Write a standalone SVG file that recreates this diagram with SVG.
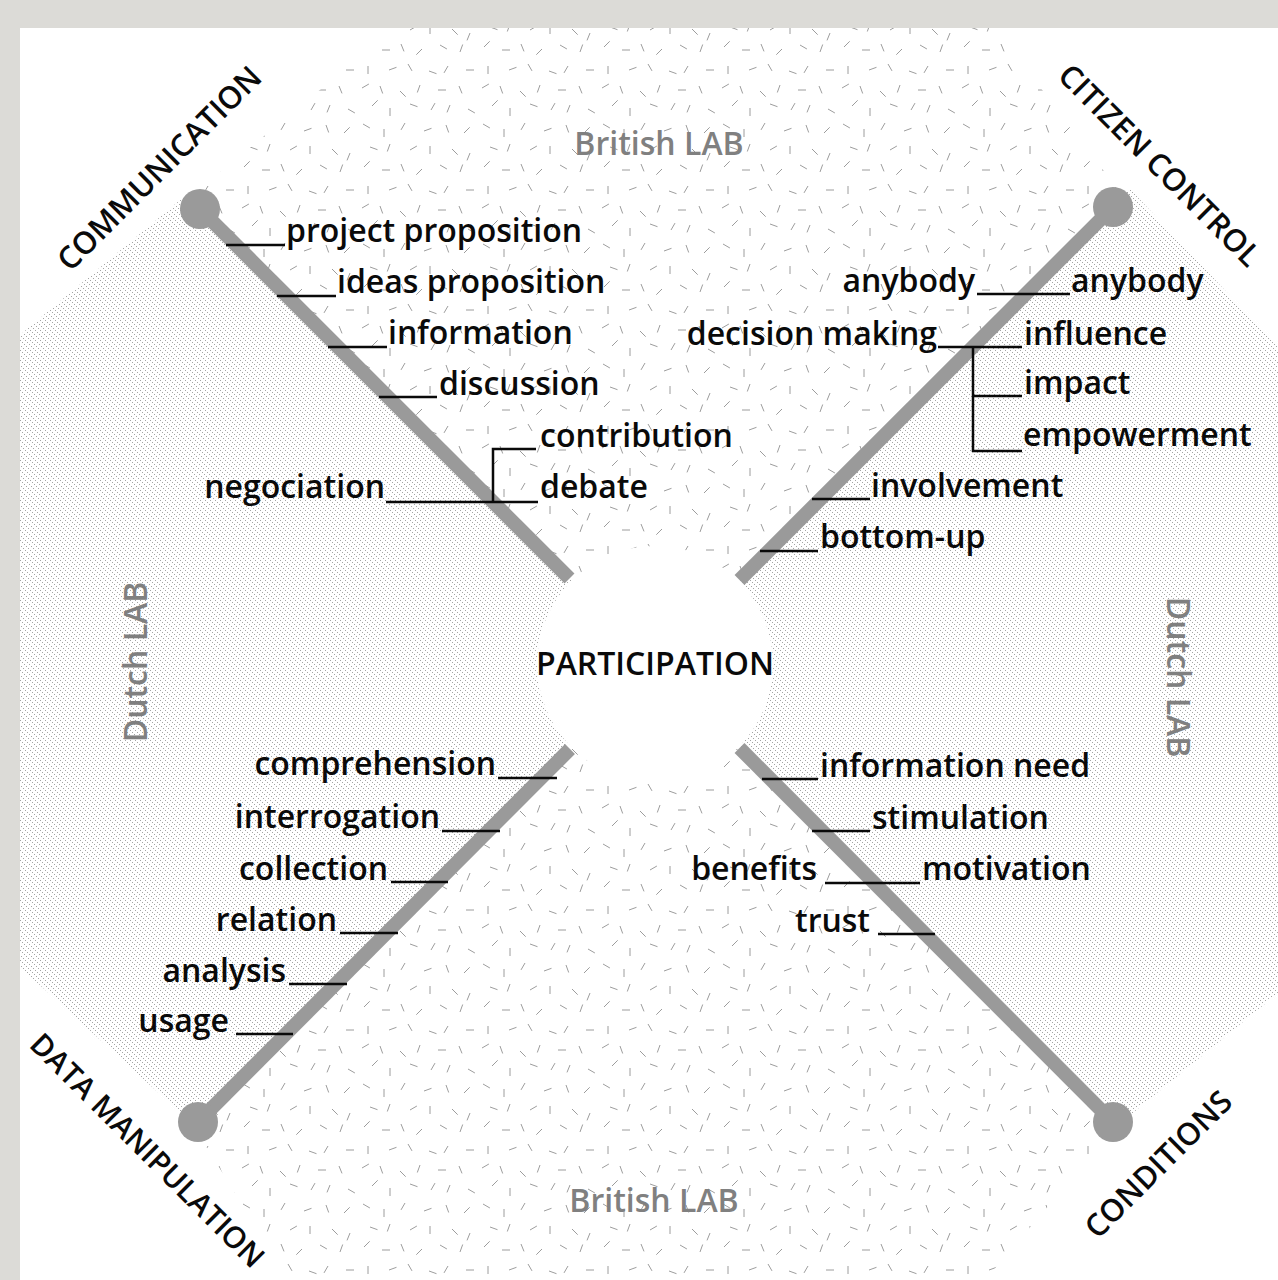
<svg xmlns="http://www.w3.org/2000/svg" width="1278" height="1280" viewBox="0 0 1278 1280">
<style>
.t{font-family:"Open Sans","Liberation Sans",sans-serif;font-weight:600;font-size:32px;fill:#0a0a0a}
.cap{font-size:31px}
.dm{font-size:30px}
.gr{fill:#808080}
.ln{stroke:#0a0a0a;stroke-width:2.5;fill:none}
.arm{stroke:#9a9a9a;stroke-width:14;stroke-linecap:butt;fill:none}
.dot{fill:#9a9a9a}
.sp{stroke:#9c9c9c;stroke-width:1;fill:none}
.hd{fill:#a4a4a4}
</style>
<defs>
<pattern id="hatch" patternUnits="userSpaceOnUse" width="5" height="10">
<g shape-rendering="crispEdges">
<rect class="hd" x="0" y="0" width="1" height="1"/>
<rect class="hd" x="2" y="2" width="1" height="1"/>
<rect class="hd" x="4" y="4" width="1" height="1"/>
<rect class="hd" x="1" y="6" width="1" height="1"/>
<rect class="hd" x="3" y="8" width="1" height="1"/>
</g>
</pattern>
<pattern id="speck" patternUnits="userSpaceOnUse" width="120" height="120">
<path class="sp" d="M3 4l6.9 4M24 9l0 8M45 3l-4 6.9M64 11l7.5-2.7M86 5l2.7 7.5M104 13l5.7-5.7M10 27l7.5 2.7M30 24l-2.7 7.5M50 30l6.9-4M70 26l0 8M92 29l5.7 5.7M110 33l-3 7.4M4 47l5.7-5.7M22 50l8 0M41 44l3 7.4M62 49l-5.7 5.7M80 45l6.9 4M100 52l2.7-7.5M8 66l0 8M29 70l7.5-2.7M48 64l4 6.9M69 71l7.5 2.7M88 66l-4 6.9M106 70l8 0M2 88l6.9-4M20 86l2.7 7.5M40 91l5.7 5.7M60 85l-2.7 7.5M78 90l8 0M99 86l3 7.4M12 106l5.7-5.7M30 108l0 8M50 104l7.5 2.7M71 110l4-6.9M90 105l-3 7.4M108 109l6.9 4"/>
</pattern>
<clipPath id="page"><rect x="20" y="28" width="1258" height="1252"/></clipPath>
</defs>
<rect x="0" y="0" width="1278" height="1280" fill="#dcdbd7"/>
<rect x="20" y="28" width="1258" height="1252" fill="#ffffff"/>
<g id="background" clip-path="url(#page)">
<polygon fill="url(#hatch)" points="655,664 186,195 20,335 20,967 194,1125"/>
<polygon fill="url(#hatch)" points="655,664 1130,189 1278,347 1278,993 1117,1126"/>
<polygon fill="url(#speck)" points="655,664 189,198 395,28 995,28 1123,196"/>
<polygon fill="url(#speck)" points="655,664 193,1126 290,1280 985,1280 1117,1126"/>
<circle cx="655" cy="664" r="118" fill="#ffffff"/>
</g>
<g id="connectors">
<line class="arm" x1="200" y1="209" x2="569.5" y2="578.5"/>
<line class="arm" x1="1113" y1="207" x2="739.5" y2="580"/>
<line class="arm" x1="198" y1="1122" x2="570" y2="749"/>
<line class="arm" x1="1113" y1="1122" x2="739.5" y2="748"/>
<circle class="dot" cx="200" cy="209" r="20"/>
<circle class="dot" cx="1113" cy="207" r="20"/>
<circle class="dot" cx="198" cy="1122" r="20"/>
<circle class="dot" cx="1113" cy="1122" r="20"/>
<path class="ln" d="M226 245H285M277 296H336M328 347H387M379 397H437M536 449H493V502M386 502H538"/>
<path class="ln" d="M977 294H1070M938 347H1022M973 347V452M973 396H1022M973 451H1022M812 499H870M760 551H818"/>
<path class="ln" d="M498 778H557M442 831H500M391 882H448M340 933H398M289 984H347M236 1034H293"/>
<path class="ln" d="M762 779H818M812 831H870M825 883H920M878 934H935"/>
</g>
<g id="participation"><text class="t" x="655" y="675" text-anchor="middle">PARTICIPATION</text></g>
<g id="communication"><text class="t cap" x="167" y="176" text-anchor="middle" transform="rotate(-45 167 176)">COMMUNICATION</text></g>
<g id="citizen-control"><text class="t cap" x="1152" y="173" text-anchor="middle" transform="rotate(45 1152 173)">CITIZEN CONTROL</text></g>
<g id="data-manipulation"><text class="t dm" x="140" y="1158" text-anchor="middle" transform="rotate(45 140 1158)">DATA MANIPULATION</text></g>
<g id="conditions"><text class="t cap" x="1166" y="1172" text-anchor="middle" transform="rotate(-45 1166 1172)">CONDITIONS</text></g>
<g id="british-lab-top"><text class="t gr" x="659" y="155" text-anchor="middle">British LAB</text></g>
<g id="british-lab-bottom"><text class="t gr" x="654" y="1212" text-anchor="middle">British LAB</text></g>
<g id="dutch-lab-left"><text class="t gr" x="147" y="662" text-anchor="middle" transform="rotate(-90 147 662)">Dutch LAB</text></g>
<g id="dutch-lab-right"><text class="t gr" x="1167" y="677" text-anchor="middle" transform="rotate(90 1167 677)">Dutch LAB</text></g>
<g id="communication-labels">
<g id="project-proposition"><text class="t" x="286" y="242">project proposition</text></g>
<g id="ideas-proposition"><text class="t" x="337" y="293">ideas proposition</text></g>
<g id="information"><text class="t" x="388" y="344">information</text></g>
<g id="discussion"><text class="t" x="439" y="395">discussion</text></g>
<g id="contribution"><text class="t" x="540" y="447">contribution</text></g>
<g id="debate"><text class="t" x="540" y="498">debate</text></g>
<g id="negociation"><text class="t" x="385" y="498" text-anchor="end">negociation</text></g>
</g>
<g id="citizen-labels">
<g id="anybody-left"><text class="t" x="975" y="292" text-anchor="end">anybody</text></g>
<g id="anybody-right"><text class="t" x="1071" y="292">anybody</text></g>
<g id="decision-making"><text class="t" x="937" y="345" text-anchor="end">decision making</text></g>
<g id="influence"><text class="t" x="1024" y="345">influence</text></g>
<g id="impact"><text class="t" x="1024" y="394">impact</text></g>
<g id="empowerment"><text class="t" x="1023" y="446">empowerment</text></g>
<g id="involvement"><text class="t" x="871" y="497">involvement</text></g>
<g id="bottom-up"><text class="t" x="820" y="548">bottom-up</text></g>
</g>
<g id="data-labels">
<g id="comprehension"><text class="t" x="496" y="775" text-anchor="end">comprehension</text></g>
<g id="interrogation"><text class="t" x="440" y="828" text-anchor="end">interrogation</text></g>
<g id="collection"><text class="t" x="388" y="880" text-anchor="end">collection</text></g>
<g id="relation"><text class="t" x="337" y="931" text-anchor="end">relation</text></g>
<g id="analysis"><text class="t" x="286" y="982" text-anchor="end">analysis</text></g>
<g id="usage"><text class="t" x="229" y="1032" text-anchor="end">usage</text></g>
</g>
<g id="conditions-labels">
<g id="information-need"><text class="t" x="820" y="777">information need</text></g>
<g id="stimulation"><text class="t" x="872" y="829">stimulation</text></g>
<g id="benefits"><text class="t" x="817" y="880" text-anchor="end">benefits</text></g>
<g id="motivation"><text class="t" x="922" y="880">motivation</text></g>
<g id="trust"><text class="t" x="870" y="932" text-anchor="end">trust</text></g>
</g>
</svg>
